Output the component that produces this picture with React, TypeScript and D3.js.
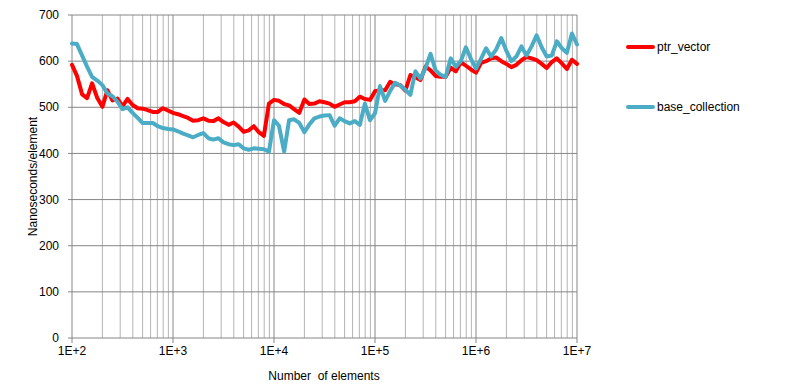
import React from "react";
import * as d3 from "d3";

// x positions: 20 samples per decade, 1E+2 .. 1E+7
const mantissas = [1, 1.12, 1.26, 1.41, 1.58, 1.78, 2, 2.24, 2.51, 2.82, 3.16, 3.55, 3.98, 4.47, 5.01, 5.62, 6.31, 7.08, 7.94, 8.91];
const decades = [1e2, 1e3, 1e4, 1e5, 1e6];
const sizes = [...decades.flatMap(d => mantissas.map(m => m * d)), 1e7];

const ptrVector = [
  592, 568, 528, 520, 552, 520, 501, 537, 515, 519,
  502, 518, 505, 498, 497, 494, 490, 490, 498, 493,
  488, 485, 481, 477, 471, 472, 476, 471, 470, 476,
  468, 462, 467, 458, 447, 450, 459, 446, 438, 508,
  516, 514, 507, 504, 496, 488, 517, 507, 508, 513,
  511, 508, 501, 506, 511, 511, 513, 523, 518, 516,
  535, 537, 537, 555, 550, 548, 536, 570, 565, 559,
  588, 580, 568, 566, 566, 586, 578, 598, 590, 582,
  575, 596, 600, 606, 608, 600, 594, 587, 592, 602,
  609, 606, 602, 594, 585, 598, 606, 595, 583, 603,
  594,
];

const baseCollection = [
  638, 637, 612, 588, 566, 558, 548, 530, 524, 512,
  496, 500, 488, 477, 466, 466, 466, 459, 455, 453,
  452, 448, 443, 439, 435, 440, 444, 433, 430, 433,
  424, 420, 418, 420, 411, 408, 411, 410, 409, 404,
  472, 460, 404, 472, 474, 466, 446, 463, 476, 480,
  482, 483, 460, 476, 470, 465, 470, 462, 508, 472,
  487, 546, 514, 535, 553, 547, 538, 527, 578, 562,
  585, 616, 580, 570, 566, 606, 588, 600, 630, 605,
  584, 605, 628, 610, 625, 650, 622, 600, 610, 632,
  612, 632, 656, 630, 610, 612, 643, 628, 618, 660,
  636,
];

const series = [
  { name: "ptr_vector", values: ptrVector, color: "#ff0000" },
  { name: "base_collection", values: baseCollection, color: "#4bacc6" },
];

const yTicks = [0, 100, 200, 300, 400, 500, 600, 700];
const xMajor = [1e2, 1e3, 1e4, 1e5, 1e6, 1e7];
const xMajorLabels = ["1E+2", "1E+3", "1E+4", "1E+5", "1E+6", "1E+7"];
const minorSteps = [2, 3, 4, 5, 6, 7, 8, 9];

const W = 795;
const H = 390;
const margin = { left: 72, right: 218, top: 15, bottom: 52 };
const FONT = "'Liberation Sans', Arial, sans-serif";

export default function App() {
  const x = d3.scaleLog().domain([1e2, 1e7]).range([margin.left, W - margin.right]);
  const y = d3.scaleLinear().domain([0, 700]).range([H - margin.bottom, margin.top]);

  const minor = decades.flatMap(d => minorSteps.map(m => m * d));

  const line = (vals: number[]) =>
    d3
      .line<number>()
      .x((_, i) => x(sizes[i]))
      .y(v => y(v))(vals) || "";

  const x0 = x(1e2);
  const x1 = x(1e7);
  const y0 = y(0);
  const y1 = y(700);

  return (
    <svg
      width={W}
      height={H}
      style={{ position: "absolute", left: 0, top: 0, background: "#fff" }}
      fontFamily={FONT}
    >
      {/* minor vertical grid */}
      {minor.map(v => (
        <line key={"m" + v} x1={x(v)} x2={x(v)} y1={y1} y2={y0} stroke="#b4b4b4" strokeWidth={1} />
      ))}
      {/* major vertical grid */}
      {xMajor.map(v => (
        <line key={"M" + v} x1={x(v)} x2={x(v)} y1={y1} y2={y0 + 5} stroke="#868686" strokeWidth={1} />
      ))}
      {/* horizontal grid */}
      {yTicks.map(t => (
        <line key={"h" + t} x1={x0 - 4} x2={x1} y1={y(t)} y2={y(t)} stroke="#868686" strokeWidth={1} />
      ))}

      {series.map(s => (
        <path
          key={s.name}
          d={line(s.values)}
          fill="none"
          stroke={s.color}
          strokeWidth={4}
          strokeLinejoin="round"
          strokeLinecap="round"
        />
      ))}

      {/* y labels */}
      {yTicks.map(t => (
        <text key={"yl" + t} x={x0 - 13} y={y(t)} dy="0.35em" textAnchor="end" fontSize={12} fill="#000">
          {t}
        </text>
      ))}
      {/* x labels */}
      {xMajor.map((v, i) => (
        <text key={"xl" + v} x={x(v)} y={y0 + 17} textAnchor="middle" fontSize={12} fill="#000">
          {xMajorLabels[i]}
        </text>
      ))}

      <text x={324} y={380} textAnchor="middle" fontSize={12} fill="#000" style={{ whiteSpace: "pre" }}>
        Number  of elements
      </text>
      <text
        transform={`translate(37,${(y0 + y1) / 2}) rotate(-90)`}
        textAnchor="middle"
        fontSize={12}
        fill="#000"
      >
        Nanoseconds/element
      </text>

      {/* legend */}
      {series.map((s, i) => {
        const ly = 47 + i * 60;
        return (
          <g key={"lg" + s.name}>
            <line x1={628} x2={653} y1={ly} y2={ly} stroke={s.color} strokeWidth={4} strokeLinecap="round" />
            <text x={657} y={ly} dy="0.35em" fontSize={12} fill="#000">
              {s.name}
            </text>
          </g>
        );
      })}
    </svg>
  );
}
